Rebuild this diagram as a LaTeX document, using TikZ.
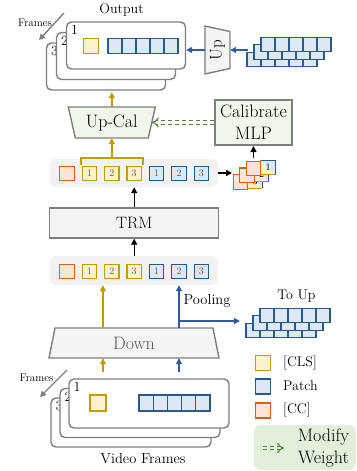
\documentclass[tikz,border=0pt]{standalone}
\usetikzlibrary{arrows.meta}

\definecolor{lnGray}{HTML}{7F7F7F}
\definecolor{boxGray}{HTML}{F4F4F4}
\definecolor{rowGray}{HTML}{F2F2F2}
\definecolor{numGray}{HTML}{595959}
\definecolor{clsLine}{HTML}{C79A00}
\definecolor{clsFill}{HTML}{FFF2CC}
\definecolor{patLine}{HTML}{2B5A8A}
\definecolor{patFill}{HTML}{DDE8F7}
\definecolor{ccLine}{HTML}{D2621C}
\definecolor{ccFill}{HTML}{FCE4D6}
\definecolor{mlpFill}{HTML}{EFF6EA}
\definecolor{keyFill}{HTML}{E2EFDA}
\definecolor{wtGreen}{HTML}{548235}
\definecolor{arrGold}{HTML}{C49A00}
\definecolor{arrBlue}{HTML}{2F5C9E}

\begin{document}
\begin{tikzpicture}[x=1pt,y=-1pt,
  >={Triangle[length=6pt,width=6pt]},
  frm/.style={draw=lnGray,line width=1.4pt,fill=white,rounded corners=5pt,inner sep=0},
  frmTop/.style={frm,minimum width=119pt,minimum height=47pt},
  frmBot/.style={frm,minimum width=160pt,minimum height=49pt},
  corner/.style={anchor=north west,inner sep=0,font=\fontsize{14}{14}\selectfont},
  tok/.style={minimum size=14.5pt,inner sep=0,line width=1.2pt,font=\fontsize{10}{10}\selectfont,text=numGray},
  clsT/.style={tok,draw=clsLine,fill=clsFill},
  patT/.style={tok,draw=patLine,fill=patFill},
  ccT/.style={tok,draw=ccLine,fill=ccFill},
  splT/.style={tok,outer sep=0,text=black,path picture={
      \fill[clsFill] (path picture bounding box.north west) -- (path picture bounding box.south west)
        -- (path picture bounding box.south east) -- cycle;
      \fill[patFill] (path picture bounding box.north west) -- (path picture bounding box.north east)
        -- (path picture bounding box.south east) -- cycle;}},
  rowbg/.style={fill=rowGray,rounded corners=6pt,minimum width=168pt,minimum height=28pt,inner sep=0},
  plainbox/.style={draw=lnGray,line width=1.4pt,fill=boxGray},
  garr/.style={->,draw=arrGold,line width=1.4pt},
  barr/.style={->,draw=arrBlue,line width=1.4pt},
  karr/.style={->,draw=black,line width=1.4pt},
  farr/.style={->,draw=lnGray,line width=1.4pt},
  wmod/.style={draw=wtGreen,line width=1.1pt,double distance=2.2pt,dash pattern=on 4pt off 3pt,-{Implies[scale=1.35]}},
  lbl/.style={inner sep=0,font=\fontsize{14}{14}\selectfont},
  smalllbl/.style={inner sep=0,font=\fontsize{11}{11}\selectfont},
  bigtxt/.style={inner sep=0,font=\fontsize{18}{22}\selectfont},
]
\useasboundingbox (0,0) rectangle (356,471);

% ---------- output frames ----------
\node[frmTop] (tf3) at (106,66.5) {};
\node[corner] (tf3n) at ([shift={(5,4)}]tf3.north west) {3};
\node[frmTop] (tf2) at (116,56) {};
\node[corner] (tf2n) at ([shift={(5,4)}]tf2.north west) {2};
\node[frmTop] (tf1) at (126,45.5) {};
\node[corner] (tf1n) at ([shift={(5,4)}]tf1.north west) {1};
\node[clsT] (tcls) at (91,46) {};
\foreach \k in {0,...,4}{\node[patT,minimum width=14pt] (tp\k) at (115+14*\k,46) {};}

\node[lbl] (outlbl) at (121.5,10) {Output};
\node[smalllbl] (tfr) at (35,22.5) {Frames};
\coordinate (tfa) at (64,13);
\coordinate (tfb) at (39,40);
\draw[farr] (tfa) -- (tfb);

% ---------- upsampler ----------
\draw[plainbox] (205,26) -- (230,31.5) -- (230,68.5) -- (205,74) -- cycle;
\node[inner sep=0,minimum width=25pt,minimum height=48pt] (up) at (217.5,50)
  {\fontsize{17}{17}\selectfont\rotatebox{90}{Up}};
\draw[barr] (up.west) -- (up.west -| tf1.east);

\foreach \r/\x/\y in {3/247/59.5,2/254/52,1/261/44.5}{
  \foreach \k in {0,...,4}{\node[patT,minimum width=14pt] (us\r\k) at (\x+7+14*\k,\y) {};}}
\coordinate (upin) at (248,50);
\draw[barr] (upin) -- (up.east);

% ---------- Up-Cal and Calibrate MLP ----------
\draw[draw=lnGray,line width=1.4pt,fill=mlpFill] (68.3,107) -- (155.3,107) -- (148.3,138) -- (75.3,138) -- cycle;
\node[bigtxt,minimum width=80pt,minimum height=31pt] (upcal) at (111.8,122.5) {Up-Cal};
\draw[garr,shorten >=1.5pt] (upcal.north) -- (upcal.north |- tf3.south);

\node[bigtxt,draw=lnGray,line width=2pt,fill=mlpFill,minimum width=77pt,minimum height=45pt,align=center]
  (calib) at (253.5,122.5) {Calibrate\\MLP};
\draw[wmod] (calib.west) -- (upcal.east);

% ---------- token row after TRM ----------
\node[rowbg] (rubg) at (134,173) {};
\node[ccT] (ru0) at (67,173.5) {};
\foreach \i/\x in {1/89.4,2/111.8,3/134.2}{\node[clsT] (ruc\i) at (\x,173.5) {\i};}
\foreach \i/\x in {1/156.6,2/179,3/201.4}{\node[patT] (rup\i) at (\x,173.5) {\i};}
\draw[arrGold,line width=1.3pt] (81,165) -- (81,158) -- (143,158) -- (143,165);
\coordinate (brtop) at (111.8,158);
\draw[garr] (brtop) -- (upcal.south);

\coordinate (stkin) at (232,173);
\draw[karr] (rubg.east) -- (stkin);

% calibration tokens: [CC] with its split CLS/patch companion
\foreach \n/\x/\y in {3/240.5/182,2/247/175.25,1/253.5/168.5}{
  \node[splT] (sp\n) at (\x+14.5,\y-1) {\n};
  \draw[clsLine,line width=1.2pt] (sp\n.north west) -- (sp\n.south west) -- (sp\n.south east);
  \draw[patLine,line width=1.2pt] (sp\n.north west) -- (sp\n.north east) -- (sp\n.south east);
  \node[ccT] (cs\n) at (\x,\y) {};
}
\draw[karr,shorten <=3pt] (cs1.north) -- (calib.south);

% ---------- transformer ----------
\node[plainbox,minimum width=169pt,minimum height=30pt,inner sep=0,font=\fontsize{16.5}{16.5}\selectfont]
  (trm) at (134.2,223) {TRM};
\draw[karr] (trm.north) -- (trm.north |- rubg.south);

% ---------- token row before TRM ----------
\node[rowbg,minimum height=29pt] (rlbg) at (134,270.5) {};
\node[ccT] (rl0) at (67,271.5) {};
\foreach \i/\x in {1/89.4,2/111.8,3/134.2}{\node[clsT] (rlc\i) at (\x,271.5) {\i};}
\foreach \i/\x in {1/156.6,2/179,3/201.4}{\node[patT] (rlp\i) at (\x,271.5) {\i};}
\draw[karr] (trm.south |- rlbg.north) -- (trm.south);

% ---------- downsampler ----------
\draw[plainbox] (55,328) -- (213,328) -- (219,358) -- (49,358) -- cycle;
\node[bigtxt,text=numGray,minimum width=164pt,minimum height=30pt] (down) at (134,343) {Down};
\draw[garr] ([xshift=-31pt]down.north) -- ([xshift=-31pt]down.north |- rlbg.south);
\draw[barr] (down.north -| rlp2) -- (rlp2 |- rlbg.south);

\coordinate (pbr) at (179,321);
\coordinate (pend) at (240,321);
\draw[barr] (pbr) -- (pend);
\node[inner sep=0,anchor=west,font=\fontsize{14.5}{14.5}\selectfont] (pool) at (183.5,301) {Pooling};

\node[lbl] (toup) at (296.5,296) {To Up};
\foreach \r/\x/\y in {3/246/330.5,2/253/323,1/260/315.5}{
  \foreach \k in {0,...,4}{\node[patT,minimum width=14pt] (ds\r\k) at (\x+7+14*\k,\y) {};}}

% ---------- input frames ----------
\node[frmBot] (bf3) at (131,422.5) {};
\node[corner] (bf3n) at ([shift={(5,4)}]bf3.north west) {3};
\node[frmBot] (bf2) at (140,413) {};
\node[corner] (bf2n) at ([shift={(5,4)}]bf2.north west) {2};
\node[frmBot] (bf1) at (149,403.5) {};
\node[corner] (bf1n) at ([shift={(5,4)}]bf1.north west) {1};
\node[clsT,minimum size=16pt] (bcls) at (98,403) {};
\foreach \k in {0,...,4}{\node[patT,minimum width=14.2pt,minimum height=16pt] (bp\k) at (146.1+14.2*\k,403) {};}

\draw[garr,shorten <=6pt] ([xshift=-31pt]down.south |- bf1.north) -- ([xshift=-31pt]down.south);
\draw[barr,shorten <=6pt] (rlp2 |- bf1.north) -- (rlp2 |- down.south);

\node[inner sep=0,font=\fontsize{14.5}{14.5}\selectfont] (vf) at (143,459) {Video Frames};
\node[smalllbl] (bfr) at (36.5,378) {Frames};
\coordinate (bfa) at (67,370);
\coordinate (bfb) at (40,397);
\draw[farr] (bfa) -- (bfb);

% ---------- key ----------
\node[clsT,minimum size=15pt] (kc) at (263,363) {};
\node[lbl,anchor=west] (kct) at (283,362.5) {[CLS]};
\node[patT,minimum size=15pt] (kp) at (263,386.5) {};
\node[lbl,anchor=west] (kpt) at (283,386) {Patch};
\node[ccT,minimum size=15pt] (kk) at (263,410.5) {};
\node[lbl,anchor=west] (kkt) at (283,410) {[CC]};

\node[fill=keyFill,rounded corners=7pt,minimum width=102pt,minimum height=45pt,inner sep=0] (keybox) at (305,447.5) {};
\node[bigtxt,align=center] (kwt) at (323.5,448.5) {Modify\\Weight};
\coordinate (kwa) at (263,448);
\coordinate (kwb) at (284,448);
\draw[wmod,double=keyFill] (kwa) -- (kwb);
\end{tikzpicture}
\end{document}
